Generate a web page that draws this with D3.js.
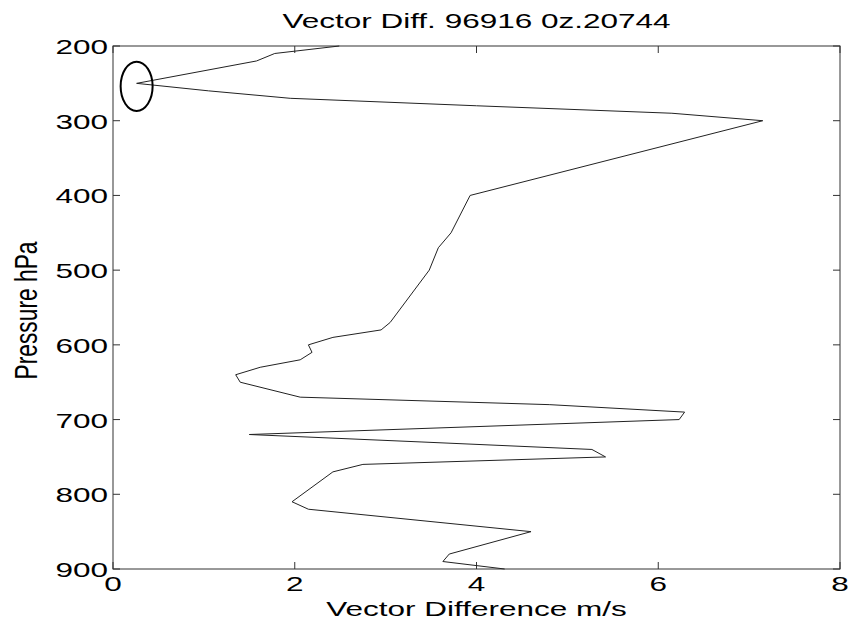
<!DOCTYPE html>
<html>
<head>
<meta charset="utf-8">
<script src="https://cdn.jsdelivr.net/npm/d3@7"></script>
<style>
  body { margin: 0; background: #fff; }
  text { font-family: "Liberation Sans", Arial, sans-serif; fill: #000; }
</style>
</head>
<body>
<svg width="848" height="624"></svg>
<script>
// data
const pressure = [200, 210, 220, 250, 260, 270, 280, 290, 300, 400, 450, 470, 500, 570, 580, 590, 600, 610, 620, 630, 640, 650, 670, 680, 690, 700, 720, 730, 740, 750, 760, 770, 810, 820, 850, 880, 890, 900]
const vecDiff  = [2.49, 1.78, 1.58, 0.26, 1.05, 1.95, 4.0, 6.15, 7.15, 3.93, 3.72, 3.58, 3.48, 3.05, 2.95, 2.42, 2.15, 2.19, 2.06, 1.62, 1.35, 1.40, 2.06, 4.8, 6.29, 6.23, 1.5, 3.4, 5.27, 5.42, 2.75, 2.42, 1.97, 2.15, 4.6, 3.7, 3.63, 4.31]
const xTicks = [0, 2, 4, 6, 8]
const yTicks = [200, 300, 400, 500, 600, 700, 800, 900]
// circled point
const ring = {v: 0.26, p: 254, rv: 0.176, rp: 33}

const svg = d3.select('svg')
const margin = {top: 46, right: 8, bottom: 55, left: 113}
const width = +svg.attr('width')
const height = +svg.attr('height')
const innerWidth = width - margin.left - margin.right
const innerHeight = height - margin.top - margin.bottom

// the figure is stretched sideways, so text gets widened with textLength
const sx = 1.5
const fs = 21
const widen = sel => sel.each(function () {
  const w = this.getComputedTextLength()
  d3.select(this).attr('textLength', w * sx).attr('lengthAdjust', 'spacingAndGlyphs')
})

const xScale = d3.scaleLinear().domain([0, 8]).range([0, innerWidth])
const yScale = d3.scaleLinear().domain([200, 900]).range([0, innerHeight])

const g = svg.append('g').attr('transform', `translate(${margin.left},${margin.top})`)

// box
g.append('rect')
  .attr('width', innerWidth).attr('height', innerHeight)
  .attr('fill', 'none').attr('stroke', '#333').attr('stroke-width', 1)

// inward ticks on all four sides
const tl = 7
xTicks.forEach(t => {
  const x = xScale(t)
  g.append('line').attr('x1', x).attr('x2', x).attr('y1', innerHeight).attr('y2', innerHeight - tl).attr('stroke', '#333')
  g.append('line').attr('x1', x).attr('x2', x).attr('y1', 0).attr('y2', tl).attr('stroke', '#333')
  g.append('text')
    .attr('x', x).attr('y', innerHeight + 22)
    .attr('text-anchor', 'middle').attr('font-size', fs)
    .text(t).call(widen)
})
yTicks.forEach(t => {
  const y = yScale(t)
  g.append('line').attr('x1', 0).attr('x2', tl).attr('y1', y).attr('y2', y).attr('stroke', '#333')
  g.append('line').attr('x1', innerWidth).attr('x2', innerWidth - tl).attr('y1', y).attr('y2', y).attr('stroke', '#333')
  g.append('text')
    .attr('x', -5).attr('y', y + 8)
    .attr('text-anchor', 'end').attr('font-size', fs)
    .text(t).call(widen)
})

// profile line
const line = d3.line()
  .x((d, i) => xScale(vecDiff[i]))
  .y(d => yScale(d))
g.append('path')
  .attr('d', line(pressure))
  .attr('fill', 'none').attr('stroke', '#222').attr('stroke-width', 1)

// ellipse round the minimum near 250 hPa
g.append('ellipse')
  .attr('cx', xScale(ring.v)).attr('cy', yScale(ring.p))
  .attr('rx', xScale(ring.rv) - xScale(0)).attr('ry', yScale(ring.p + ring.rp) - yScale(ring.p))
  .attr('fill', 'none').attr('stroke', '#000').attr('stroke-width', 2)

// labels
svg.append('text')
  .attr('x', margin.left + innerWidth / 2).attr('y', 28)
  .attr('text-anchor', 'middle').attr('font-size', fs)
  .text('Vector Diff. 96916 0z.20744').call(widen)

svg.append('text')
  .attr('x', margin.left + innerWidth / 2).attr('y', 616)
  .attr('text-anchor', 'middle').attr('font-size', fs)
  .text('Vector Difference m/s').call(widen)

// rotated: glyph height is the stretched direction, so bigger font, squeezed length
svg.append('text')
  .attr('transform', `translate(37,${margin.top + innerHeight / 2 + 3}) rotate(-90)`)
  .attr('text-anchor', 'middle').attr('font-size', 31)
  .attr('textLength', 138).attr('lengthAdjust', 'spacingAndGlyphs')
  .text('Pressure hPa')
</script>
</body>
</html>
